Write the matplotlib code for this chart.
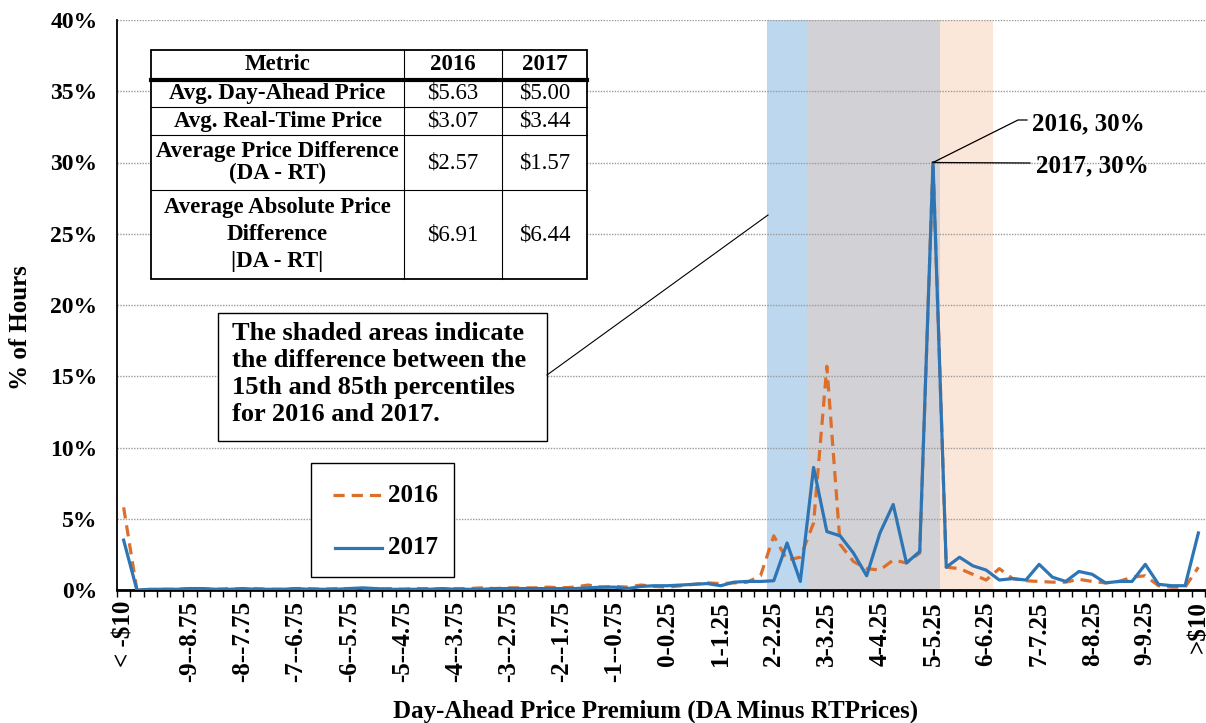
import numpy as np
import matplotlib
matplotlib.use("Agg")
import matplotlib.pyplot as plt
from matplotlib.patches import Rectangle

plt.rcParams["font.family"] = ["Liberation Serif", "DejaVu Serif"]
plt.rcParams["font.weight"] = "bold"

# % of hours per price-premium bucket: "< -$10", -10..10 in $0.25 steps, "> $10"
PCT_2016 = [
    5.8, 0.0, 0.0, 0.05, 0.05, 0.1, 0.05, 0.05, 0.1, 0.05,
    0.1, 0.05, 0.05, 0.1, 0.1, 0.05, 0.1, 0.1, 0.1, 0.05,
    0.1, 0.05, 0.1, 0.1, 0.05, 0.1, 0.1, 0.15, 0.1, 0.15,
    0.15, 0.15, 0.2, 0.15, 0.2, 0.35, 0.2, 0.25, 0.2, 0.35,
    0.25, 0.2, 0.3, 0.4, 0.5, 0.45, 0.5, 0.55, 1.0, 3.8,
    2.1, 2.3, 4.7, 15.7, 3.2, 2.0, 1.5, 1.4, 2.1, 1.9,
    2.6, 30.0, 1.6, 1.5, 1.1, 0.7, 1.5, 0.8, 0.65, 0.6,
    0.55, 0.55, 0.75, 0.6, 0.5, 0.6, 0.9, 1.0, 0.3, 0.2,
    0.2, 1.6,
]
PCT_2017 = [
    3.5, 0.0, 0.05, 0.05, 0.05, 0.1, 0.1, 0.05, 0.05, 0.1,
    0.05, 0.05, 0.05, 0.1, 0.05, 0.05, 0.05, 0.1, 0.15, 0.1,
    0.05, 0.05, 0.05, 0.05, 0.1, 0.05, 0.05, 0.05, 0.1, 0.1,
    0.1, 0.1, 0.1, 0.1, 0.1, 0.15, 0.2, 0.2, 0.1, 0.25,
    0.3, 0.3, 0.35, 0.4, 0.45, 0.3, 0.55, 0.6, 0.6, 0.65,
    3.3, 0.6, 8.6, 4.1, 3.8, 2.6, 1.0, 4.0, 6.0, 1.9,
    2.7, 30.0, 1.6, 2.3, 1.7, 1.4, 0.7, 0.8, 0.7, 1.8,
    0.9, 0.6, 1.3, 1.1, 0.5, 0.6, 0.6, 1.8, 0.4, 0.3,
    0.3, 4.0,
]

XTICK_POS = [0] + list(range(5, 78, 4)) + [81]
XTICK_LABELS = [
    "< -\\$10", "-9--8.75", "-8--7.75", "-7--6.75", "-6--5.75", "-5--4.75",
    "-4--3.75", "-3--2.75", "-2--1.75", "-1--0.75", "0-0.25", "1-1.25",
    "2-2.25", "3-3.25", "4-4.25", "5-5.25", "6-6.25", "7-7.25", "8-8.25",
    "9-9.25", ">\\$10",
]
YTICKS = [0, 5, 10, 15, 20, 25, 30, 35, 40]

# 15th-85th percentile bands ($)
BAND_2017 = (2.00, 5.25)
BAND_2016 = (2.75, 6.25)

TABLE_HEAD = ["Metric", "2016", "2017"]
TABLE_METRIC = [
    "Avg. Day-Ahead Price",
    "Avg. Real-Time Price",
    "Average Price Difference\n(DA - RT)",
    "Average Absolute Price\nDifference\n|DA - RT|",
]
TABLE_2016 = ["\\$5.63", "\\$3.07", "\\$2.57", "\\$6.91"]
TABLE_2017 = ["\\$5.00", "\\$3.44", "\\$1.57", "\\$6.44"]

C16 = "#DB6F2B"
C17 = "#2E75B6"


def price_to_pos(v):
    # left edge of the bucket that starts at price v
    return 0.5 + (v + 10) * 4


W, H = 1206, 723
fig = plt.figure(figsize=(W / 100, H / 100), dpi=100)
ax = fig.add_axes([117 / W, 133 / H, 1088 / W, 570 / H])

x = np.arange(len(PCT_2016))

# shaded percentile bands
lo = max(BAND_2016[0], BAND_2017[0])
hi = min(BAND_2016[1], BAND_2017[1])
ax.axvspan(price_to_pos(BAND_2017[0]), price_to_pos(lo), color="#BDD7EE", lw=0, zorder=0.2)
ax.axvspan(price_to_pos(lo), price_to_pos(hi), color="#D2D2D6", lw=0, zorder=0.2)
ax.axvspan(price_to_pos(hi), price_to_pos(BAND_2016[1]), color="#FBE6DA", lw=0, zorder=0.2)

ax.plot(x, PCT_2016, color=C16, lw=2.3, dashes=(3.5, 2.2), zorder=3)
ax.plot(x, PCT_2017, color=C17, lw=2.3, zorder=4)

ax.set_xlim(-0.5, len(x) - 0.5)
ax.set_ylim(0, 40)
ax.set_yticks(YTICKS)
ax.set_yticklabels([f"{v}%" for v in YTICKS], fontsize=17)
ax.tick_params(axis="y", length=0, pad=14)
ax.set_xticks(XTICK_POS)
ax.set_xticklabels(XTICK_LABELS, rotation=90, fontsize=18)
ax.set_xticks(np.arange(-0.5, len(x)), minor=True)
ax.tick_params(axis="x", which="major", length=0, pad=8)
ax.tick_params(axis="x", which="minor", length=5, width=1, color="black")

ax.set_axisbelow(True)
ax.grid(axis="y", color="#9A9A9A", lw=1.0, ls=(0, (1, 1)))
for s in ["top", "right"]:
    ax.spines[s].set_visible(False)
ax.spines["left"].set_linewidth(1.3)
ax.spines["bottom"].set_linewidth(2)

ax.set_xlabel("Day-Ahead Price Premium (DA Minus RTPrices)", fontsize=18,
              fontweight="bold")
ax.xaxis.set_label_coords(0.495, -0.213)
ax.xaxis.label.set_verticalalignment("center")
ax.set_ylabel("% of Hours", fontsize=18, fontweight="bold")
ax.yaxis.set_label_coords(-0.089, 0.46)
ax.yaxis.label.set_verticalalignment("center")

# overlay in pixel coords for table, note box, legend, labels
ov = fig.add_axes([0, 0, 1, 1])
ov.set_xlim(0, W)
ov.set_ylim(H, 0)
ov.axis("off")
ov.patch.set_alpha(0)

# table
rows = [50, 80, 107, 135, 190, 279]
cols = [151, 404, 502, 587]
ov.add_patch(Rectangle((cols[0], rows[0]), cols[-1] - cols[0], rows[-1] - rows[0],
                       facecolor="white", edgecolor="black", lw=1.3, zorder=5))
for yy in rows[2:-1]:
    ov.plot([cols[0], cols[-1]], [yy, yy], color="black", lw=0.8, zorder=6)
ov.plot([cols[0], cols[-1]], [rows[1], rows[1]], color="black", lw=3, zorder=6)
for xx in cols[1:-1]:
    ov.plot([xx, xx], [rows[0], rows[-1]], color="black", lw=0.8, zorder=6)
hy = (rows[0] + rows[1]) / 2
for j, t in enumerate(TABLE_HEAD):
    ov.text((cols[j] + cols[j + 1]) / 2, hy, t, ha="center", va="center",
            fontsize=16.5, zorder=7)
spacing = [1.0, 1.0, 1.08, 1.4]
for i in range(len(TABLE_METRIC)):
    cy = (rows[i + 1] + rows[i + 2]) / 2
    ov.text((cols[0] + cols[1]) / 2, cy, TABLE_METRIC[i], ha="center", va="center",
            fontsize=16.5, linespacing=spacing[i], zorder=7)
    ov.text((cols[1] + cols[2]) / 2, cy, TABLE_2016[i], ha="center", va="center",
            fontsize=16.5, fontweight="normal", zorder=7)
    ov.text((cols[2] + cols[3]) / 2, cy, TABLE_2017[i], ha="center", va="center",
            fontsize=16.5, fontweight="normal", zorder=7)

# note box with leader line to the shaded area
ov.add_patch(Rectangle((218, 313), 329, 128, facecolor="white",
                       edgecolor="black", lw=1.0, zorder=5))
ov.text(232, 374, "The shaded areas indicate\nthe difference between the\n"
        "15th and 85th percentiles\nfor 2016 and 2017.",
        ha="left", va="center", fontsize=19, linespacing=1.22, zorder=7)
ov.plot([547, 768], [375, 215], color="black", lw=0.8, zorder=6)

# peak labels
peak = ov.transData.inverted().transform(ax.transData.transform((61, 30)))
ov.plot([peak[0], 1018, 1027], [peak[1], 120, 120], color="black", lw=0.9, zorder=6)
ov.plot([peak[0], 1030], [peak[1], 163], color="black", lw=0.9, zorder=6)
ov.text(1032, 124, "2016, 30%", ha="left", va="center", fontsize=18, zorder=7)
ov.text(1036, 166, "2017, 30%", ha="left", va="center", fontsize=18, zorder=7)

# legend
ov.add_patch(Rectangle((311, 463), 143, 114, facecolor="white",
                       edgecolor="black", lw=1.0, zorder=5))
ov.plot([333, 382], [495, 495], color=C16, lw=2.3, dashes=(3.5, 2.2), zorder=6)
ov.plot([335, 382], [548, 548], color=C17, lw=2.3, zorder=6)
ov.text(388, 495, "2016", ha="left", va="center", fontsize=18, zorder=7)
ov.text(388, 548, "2017", ha="left", va="center", fontsize=18, zorder=7)

fig.savefig("out.png", dpi=100)
